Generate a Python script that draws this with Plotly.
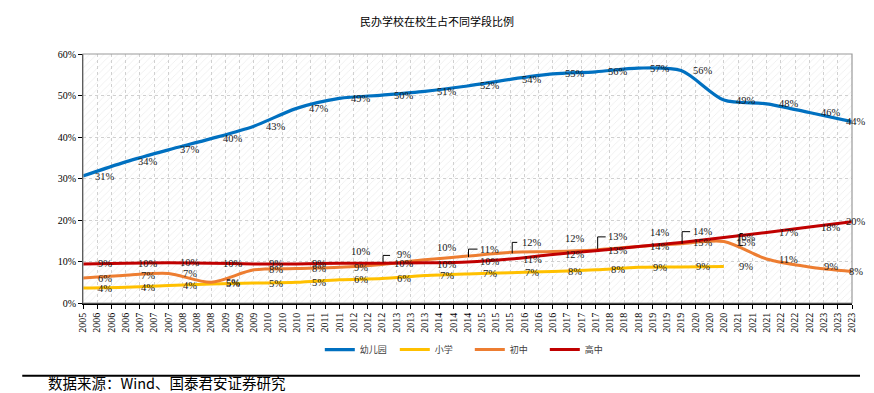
import plotly.graph_objects as go

years = list(range(2005, 2024))
kindergarten = [30.6, 34.0, 36.9, 39.6, 42.6, 46.9, 49.3, 50.1, 51.0, 52.3, 53.9, 55.2, 55.7, 56.6, 56.0, 48.9, 48.0, 45.9, 43.7]
primary = [3.6, 3.8, 4.2, 4.6, 4.8, 5.0, 5.6, 5.9, 6.6, 7.0, 7.3, 7.6, 8.0, 8.6, 8.7, 8.8]
junior = [6.0, 6.7, 7.1, 5.0, 8.0, 8.3, 8.6, 9.3, 10.4, 11.3, 12.2, 12.4, 12.8, 13.6, 14.3, 14.8, 10.6, 8.7, 7.6]
senior = [9.4, 9.6, 9.7, 9.6, 9.4, 9.4, 9.6, 9.6, 9.7, 9.9, 10.6, 11.7, 12.6, 13.6, 14.6, 15.8, 17.0, 18.3, 19.6]

series_names = ["幼儿园", "小学", "初中", "高中"]
series_values = [kindergarten, primary, junior, senior]
series_colors = ["#0070C0", "#FFC000", "#ED7D31", "#C00000"]

y_ticks = [0, 10, 20, 30, 40, 50, 60]
y_ticktext = [f"{v}%" for v in y_ticks]
tick_step_months = 4

title_text = "民办学校在校生占不同学段比例"
source_text = "数据来源：Wind、国泰君安证券研究"

# manual label displacements (px, up positive) like the dragged Excel labels
label_dy = {("高中", 2011): 12, ("初中", 2012): 10, ("初中", 2013): 12, ("初中", 2014): 7,
            ("初中", 2015): 10, ("初中", 2016): 13, ("初中", 2017): 13, ("初中", 2018): 14,
            ("初中", 2019): 12, ("初中", 2020): -1, ("高中", 2013): -2}
leaders = {("初中", 2012): "M1,2 V9 H8", ("初中", 2014): "M1,-1 V7 H10",
           ("初中", 2015): "M2,-1 V10 H7", ("初中", 2017): "M2,1 V13 H10",
           ("初中", 2019): "M1,0 V12 H9", ("初中", 2020): "M19,-4 H16 V8 H19"}

x0, x1 = years[0], years[-1]
y_max = y_ticks[-1]

SERIF = "Liberation Serif"
CJK = "Noto Sans CJK SC"

fig = go.Figure()

# hatched plot-area background
fig.add_trace(go.Scatter(x=[x0, x1, x1, x0, x0], y=[0, 0, y_max, y_max, 0], mode="none",
                         fill="toself", fillcolor="rgba(0,0,0,0)",
                         fillpattern=dict(shape="/", fgcolor="#d6d6d6", bgcolor="rgba(255,255,255,0)",
                                          size=5, solidity=0.14),
                         hoverinfo="skip", showlegend=False))

label_font = dict(family=SERIF, size=10.5, color="#1a1a1a")
annotations = []
shapes = []
for name, vals, col in zip(series_names, series_values, series_colors):
    xs = years[:len(vals)]
    fig.add_trace(go.Scatter(x=xs, y=vals, name=name, mode="lines",
                             line=dict(color=col, width=3.2 if name == "幼儿园" else 3, shape="spline", smoothing=0.8)))
    for x, v in zip(xs, vals):
        dy = label_dy.get((name, x), 0)
        annotations.append(dict(x=x, y=v, xref="x", yref="y", text=f"{v:.0f}%", showarrow=False,
                                xanchor="center", yanchor="middle",
                                xshift=(4 if x == x1 else 22), yshift=dy, font=label_font))
        if (name, x) in leaders:
            shapes.append(dict(type="path", xref="x", yref="y", xsizemode="pixel", ysizemode="pixel",
                               xanchor=x, yanchor=v, path=leaders[(name, x)],
                               line=dict(color="#000000", width=1)))

# x ticks every 4 months
n_ticks = (x1 - x0) * 12 // tick_step_months + 1
tickvals = [x0 + k * tick_step_months / 12 for k in range(n_ticks)]
ticktext = [str(x0 + (k * tick_step_months + 11) // 12) for k in range(n_ticks)]

# plot-area border (gray) and source rule
shapes.append(dict(type="rect", xref="paper", yref="paper", x0=0, x1=1, y0=0, y1=1,
                   line=dict(color="#9a9a9a", width=1.2), layer="above"))
shapes.append(dict(type="line", xref="paper", yref="paper", x0=-0.079, x1=1.0104, y0=-0.292, y1=-0.292,
                   line=dict(color="#000000", width=2)))
annotations.append(dict(x=-0.047, y=-0.321, xref="paper", yref="paper", text=source_text, showarrow=False,
                        xanchor="left", yanchor="middle", borderpad=0,
                        font=dict(family=CJK, size=14.5, color="#000000")))

fig.update_layout(
    width=874, height=393,
    margin=dict(l=83, r=22, t=54, b=90),
    paper_bgcolor="#ffffff", plot_bgcolor="#ffffff",
    title=dict(text=title_text, x=0.5, xanchor="center", y=1 - 22 / 393, yanchor="middle",
               font=dict(family=CJK, size=11, color="#000000")),
    showlegend=True,
    legend=dict(orientation="h", x=0.503, xanchor="center", y=-0.187, yanchor="middle",
                font=dict(family=CJK, size=9, color="#404040"),
                bgcolor="rgba(0,0,0,0)", itemwidth=30, entrywidth=30, tracegroupgap=0),
    annotations=annotations,
    shapes=shapes,
    xaxis=dict(range=[x0, x1], tickmode="array", tickvals=tickvals, ticktext=ticktext, tickangle=-90,
               showgrid=True, gridcolor="#d0d0d0", griddash="dot", gridwidth=1,
               showline=True, linecolor="#000000", linewidth=1.5, ticks="outside", ticklen=4,
               tickcolor="#000000", zeroline=False,
               tickfont=dict(family=SERIF, size=10, color="#000000")),
    yaxis=dict(range=[0, y_max], tickmode="array", tickvals=y_ticks, ticktext=y_ticktext,
               showgrid=True, gridcolor="#d0d0d0", griddash="dot", gridwidth=1,
               showline=True, linecolor="#000000", linewidth=1, ticks="outside", ticklen=4,
               tickcolor="#000000", zeroline=False,
               tickfont=dict(family=SERIF, size=10, color="#000000")),
)

fig.write_html("out.html", config={"displayModeBar": False})

# remove the browser's default page margin so the figure sits at the top-left corner
with open("out.html", "r", encoding="utf-8") as f:
    html = f.read()
html = html.replace("<head>", "<head><style>html,body{margin:0;padding:0;}</style>", 1)
with open("out.html", "w", encoding="utf-8") as f:
    f.write(html)
